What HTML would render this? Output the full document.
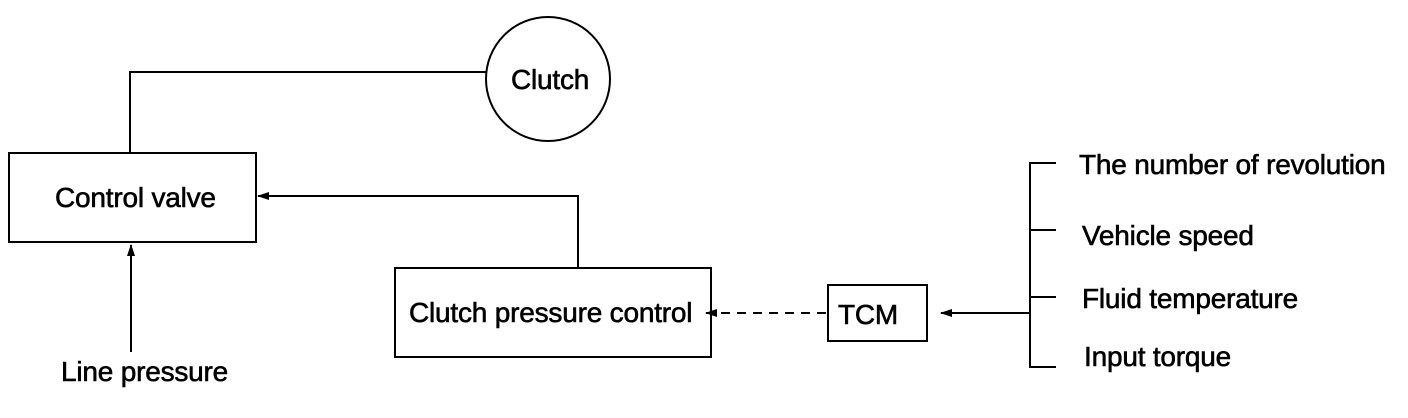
<!DOCTYPE html>
<html><head><meta charset="utf-8"><style>
html,body{margin:0;padding:0;background:#fff;}
svg{display:block}
text{font-family:"Liberation Sans",Arial,sans-serif;font-size:28px;fill:#000;stroke:#000;stroke-width:0.6;letter-spacing:-0.2px}
</style></head><body>
<svg width="1408" height="418" viewBox="0 0 1408 418" xmlns="http://www.w3.org/2000/svg">
<defs><marker id="a" markerWidth="12" markerHeight="8" refX="11" refY="4" orient="auto" markerUnits="userSpaceOnUse"><path d="M0,0 L12,4 L0,8 Z" fill="#000"/></marker></defs>
<g stroke="#000" stroke-width="2" fill="none">
<circle cx="548" cy="79" r="62"/>
<rect x="9" y="153" width="247" height="89"/>
<rect x="395" y="268" width="316" height="89"/>
<rect x="828" y="285" width="99" height="56"/>
<polyline points="130,153 130,72 486,72"/>
<polyline points="578,268 578,196 258,196" marker-end="url(#a)"/>
<line x1="131" y1="352" x2="131" y2="245" marker-end="url(#a)"/>
<line x1="826" y1="313" x2="706" y2="313" stroke-dasharray="9,7" marker-end="url(#a)"/>
<line x1="1030" y1="313" x2="941" y2="313" marker-end="url(#a)"/>
<polyline points="1056,163 1030,163 1030,367 1056,367"/>
<line x1="1030" y1="230" x2="1056" y2="230"/>
<line x1="1030" y1="297" x2="1056" y2="297"/>
</g>
<text x="511" y="89">Clutch</text>
<text x="55" y="207">Control valve</text>
<text x="409" y="322">Clutch pressure control</text>
<text x="838" y="324">TCM</text>
<text x="61" y="381">Line pressure</text>
<text x="1079" y="174">The number of revolution</text>
<text x="1082" y="245">Vehicle speed</text>
<text x="1082" y="308">Fluid temperature</text>
<text x="1084" y="366">Input torque</text>
</svg>
</body></html>
